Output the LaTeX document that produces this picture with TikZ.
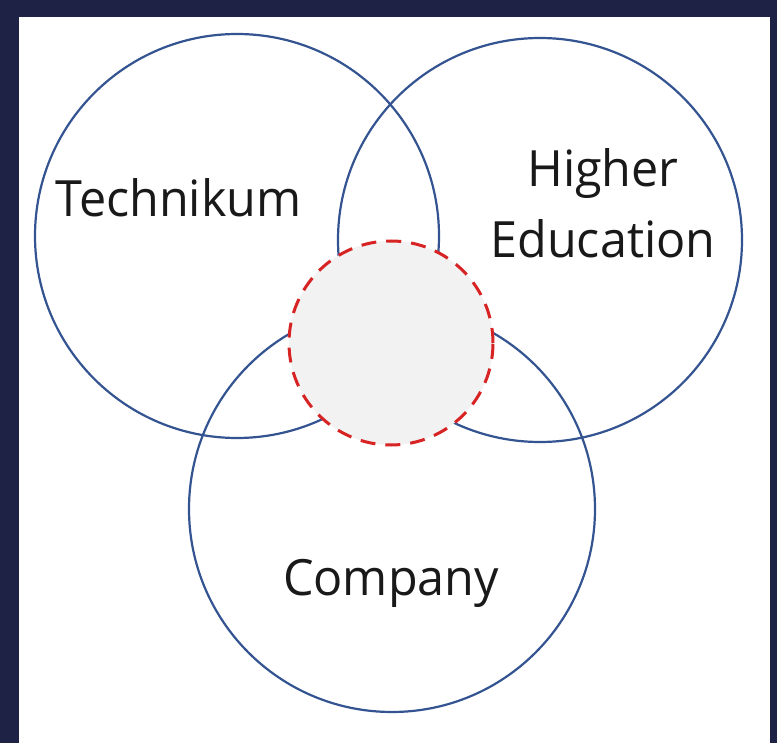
\documentclass[tikz,border=0pt]{standalone}
\usepackage{fontspec}
\newfontfamily\vennfont[FakeStretch=0.97]{Open Sans}
\definecolor{frameblue}{RGB}{30,35,70}
\definecolor{setblue}{RGB}{52,84,145}
\definecolor{corered}{RGB}{215,35,35}
\definecolor{coregray}{RGB}{242,242,242}
\definecolor{inkgray}{RGB}{25,25,25}

\begin{document}
\begin{tikzpicture}[x=0.5pt, y=-0.5pt,
  set/.style={circle, draw=setblue, line width=1.1pt, inner sep=0pt},
  core/.style={circle, draw=corered, fill=coregray, line width=1.5pt, dash pattern=on 7.5pt off 5pt, inner sep=0pt},
  lbl/.style={font=\vennfont\fontsize{25}{35.5}\selectfont, text=inkgray, inner sep=0pt, align=center}]
\fill[frameblue] (0,0) rectangle (777,743);
\fill[white] (19,17) rectangle (770,743);
\useasboundingbox (0,0) rectangle (777,743);

% the three sets
\node[set, minimum size=202pt] (tech) at (237,236) {};
\node[set, minimum size=202pt] (high) at (540,240) {};
\node[set, minimum size=203pt] (comp) at (392,509) {};

% shared core
\node[core, minimum size=102pt] (core) at (391,343) {};

\node[lbl, anchor=base] (techlbl) at (178.5,216.7) {Technikum};
\node[lbl, anchor=base] (highlbl) at (603,258) {Higher\\Education};
\node[lbl, anchor=base] (complbl) at (391,595) {Company};
\end{tikzpicture}
\end{document}
